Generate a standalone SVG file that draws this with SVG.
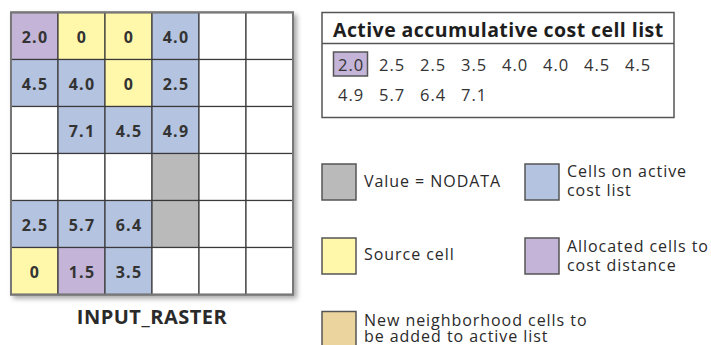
<svg xmlns="http://www.w3.org/2000/svg" width="711" height="345" viewBox="0 0 711 345">
  <style>
    .cell { stroke: #3a3a3a; stroke-width: 1.2; }
    .w { fill: #ffffff; }
    .p { fill: #c3b4d8; }
    .y { fill: #fff7a9; }
    .b { fill: #b4c3df; }
    .g { fill: #bababa; }
    .t { fill: #ecd49e; }
    .num { font-family: "Open Sans", "DejaVu Sans", sans-serif; font-weight: bold; font-size: 16px; letter-spacing: 1.2px; fill: #333333; text-anchor: middle; }
    .lbl { font-family: "Open Sans", "DejaVu Sans", sans-serif; font-size: 16px; letter-spacing: 0.95px; fill: #2a2a2a; }
    .lst { font-family: "Open Sans", "DejaVu Sans", sans-serif; font-size: 16.5px; letter-spacing: 1px; fill: #333333; }
    .key { stroke: #555555; stroke-width: 1.5; }
  </style>
  <defs>
    <filter id="shadow" x="-10%" y="-10%" width="125%" height="125%">
      <feDropShadow dx="3" dy="3" stdDeviation="2.5" flood-color="#000000" flood-opacity="0.35"/>
    </filter>
  </defs>

  <rect width="711" height="345" fill="#ffffff"/>

  <!-- raster grid, 6 x 6 cells of 47 px -->
  <g id="raster">
    <rect x="11" y="12.5" width="282" height="282" fill="#ffffff" stroke="#777777" stroke-width="2" filter="url(#shadow)"/>
    <g class="cell">
      <rect class="p" x="11" y="12.5" width="47" height="47"/>
      <rect class="y" x="58" y="12.5" width="47" height="47"/>
      <rect class="y" x="105" y="12.5" width="47" height="47"/>
      <rect class="b" x="152" y="12.5" width="47" height="47"/>
      <rect class="w" x="199" y="12.5" width="47" height="47"/>
      <rect class="w" x="246" y="12.5" width="47" height="47"/>

      <rect class="b" x="11" y="59.5" width="47" height="47"/>
      <rect class="b" x="58" y="59.5" width="47" height="47"/>
      <rect class="y" x="105" y="59.5" width="47" height="47"/>
      <rect class="b" x="152" y="59.5" width="47" height="47"/>
      <rect class="w" x="199" y="59.5" width="47" height="47"/>
      <rect class="w" x="246" y="59.5" width="47" height="47"/>

      <rect class="w" x="11" y="106.5" width="47" height="47"/>
      <rect class="b" x="58" y="106.5" width="47" height="47"/>
      <rect class="b" x="105" y="106.5" width="47" height="47"/>
      <rect class="b" x="152" y="106.5" width="47" height="47"/>
      <rect class="w" x="199" y="106.5" width="47" height="47"/>
      <rect class="w" x="246" y="106.5" width="47" height="47"/>

      <rect class="w" x="11" y="153.5" width="47" height="47"/>
      <rect class="w" x="58" y="153.5" width="47" height="47"/>
      <rect class="w" x="105" y="153.5" width="47" height="47"/>
      <rect class="g" x="152" y="153.5" width="47" height="47"/>
      <rect class="w" x="199" y="153.5" width="47" height="47"/>
      <rect class="w" x="246" y="153.5" width="47" height="47"/>

      <rect class="b" x="11" y="200.5" width="47" height="47"/>
      <rect class="b" x="58" y="200.5" width="47" height="47"/>
      <rect class="b" x="105" y="200.5" width="47" height="47"/>
      <rect class="g" x="152" y="200.5" width="47" height="47"/>
      <rect class="w" x="199" y="200.5" width="47" height="47"/>
      <rect class="w" x="246" y="200.5" width="47" height="47"/>

      <rect class="y" x="11" y="247.5" width="47" height="47"/>
      <rect class="p" x="58" y="247.5" width="47" height="47"/>
      <rect class="b" x="105" y="247.5" width="47" height="47"/>
      <rect class="w" x="152" y="247.5" width="47" height="47"/>
      <rect class="w" x="199" y="247.5" width="47" height="47"/>
      <rect class="w" x="246" y="247.5" width="47" height="47"/>
    </g>
    <rect x="11" y="12.5" width="282" height="282" fill="none" stroke="#777777" stroke-width="2"/>
    <g class="num">
      <text x="35" y="42.5">2.0</text>
      <text x="82" y="42.5">0</text>
      <text x="129" y="42.5">0</text>
      <text x="176" y="42.5">4.0</text>
      <text x="35" y="89.5">4.5</text>
      <text x="82" y="89.5">4.0</text>
      <text x="129" y="89.5">0</text>
      <text x="176" y="89.5">2.5</text>
      <text x="82" y="136.5">7.1</text>
      <text x="129" y="136.5">4.5</text>
      <text x="176" y="136.5">4.9</text>
      <text x="35" y="230.5">2.5</text>
      <text x="82" y="230.5">5.7</text>
      <text x="129" y="230.5">6.4</text>
      <text x="35" y="277.5">0</text>
      <text x="82" y="277.5">1.5</text>
      <text x="129" y="277.5">3.5</text>
    </g>
    <text x="152" y="324" font-family="Open Sans, DejaVu Sans, sans-serif" font-weight="bold" font-size="20" letter-spacing="0.5" fill="#2a2a2a" text-anchor="middle">INPUT_RASTER</text>
  </g>

  <!-- active cost list panel -->
  <g id="active-list">
    <rect x="322" y="12.5" width="352" height="105" fill="#ffffff" stroke="#555555" stroke-width="1.5"/>
    <line x1="322" y1="43.5" x2="674" y2="43.5" stroke="#555555" stroke-width="1.5"/>
    <text x="333" y="36.5" font-family="Open Sans, DejaVu Sans, sans-serif" font-weight="bold" font-size="19.5" letter-spacing="0.43" fill="#1e1e1e">Active accumulative cost cell list</text>
    <rect x="333.5" y="52" width="34" height="24" fill="#c3b4d8" stroke="#555555" stroke-width="1.5"/>
    <g class="lst">
      <text x="338" y="71">2.0</text>
      <text x="379" y="71">2.5</text>
      <text x="420" y="71">2.5</text>
      <text x="461" y="71">3.5</text>
      <text x="502" y="71">4.0</text>
      <text x="543" y="71">4.0</text>
      <text x="584" y="71">4.5</text>
      <text x="625" y="71">4.5</text>
      <text x="338" y="100.5">4.9</text>
      <text x="379" y="100.5">5.7</text>
      <text x="420" y="100.5">6.4</text>
      <text x="461" y="100.5">7.1</text>
    </g>
  </g>

  <!-- legend -->
  <g id="legend-nodata">
    <rect class="key g" x="322" y="164" width="34" height="36"/>
    <text class="lbl" x="364" y="187">Value = NODATA</text>
  </g>
  <g id="legend-active">
    <rect class="key b" x="525" y="164" width="34" height="36"/>
    <text class="lbl" x="567" y="177">Cells on active</text>
    <text class="lbl" x="567" y="196">cost list</text>
  </g>
  <g id="legend-source">
    <rect class="key y" x="322" y="238" width="34" height="36"/>
    <text class="lbl" x="364" y="260">Source cell</text>
  </g>
  <g id="legend-allocated">
    <rect class="key p" x="525" y="238" width="34" height="36"/>
    <text class="lbl" x="567" y="252">Allocated cells to</text>
    <text class="lbl" x="567" y="270.5">cost distance</text>
  </g>
  <g id="legend-new">
    <rect class="key t" x="322" y="311.5" width="34" height="36"/>
    <text class="lbl" x="364" y="325.5">New neighborhood cells to</text>
    <text class="lbl" x="364" y="341.5">be added to active list</text>
  </g>
</svg>
